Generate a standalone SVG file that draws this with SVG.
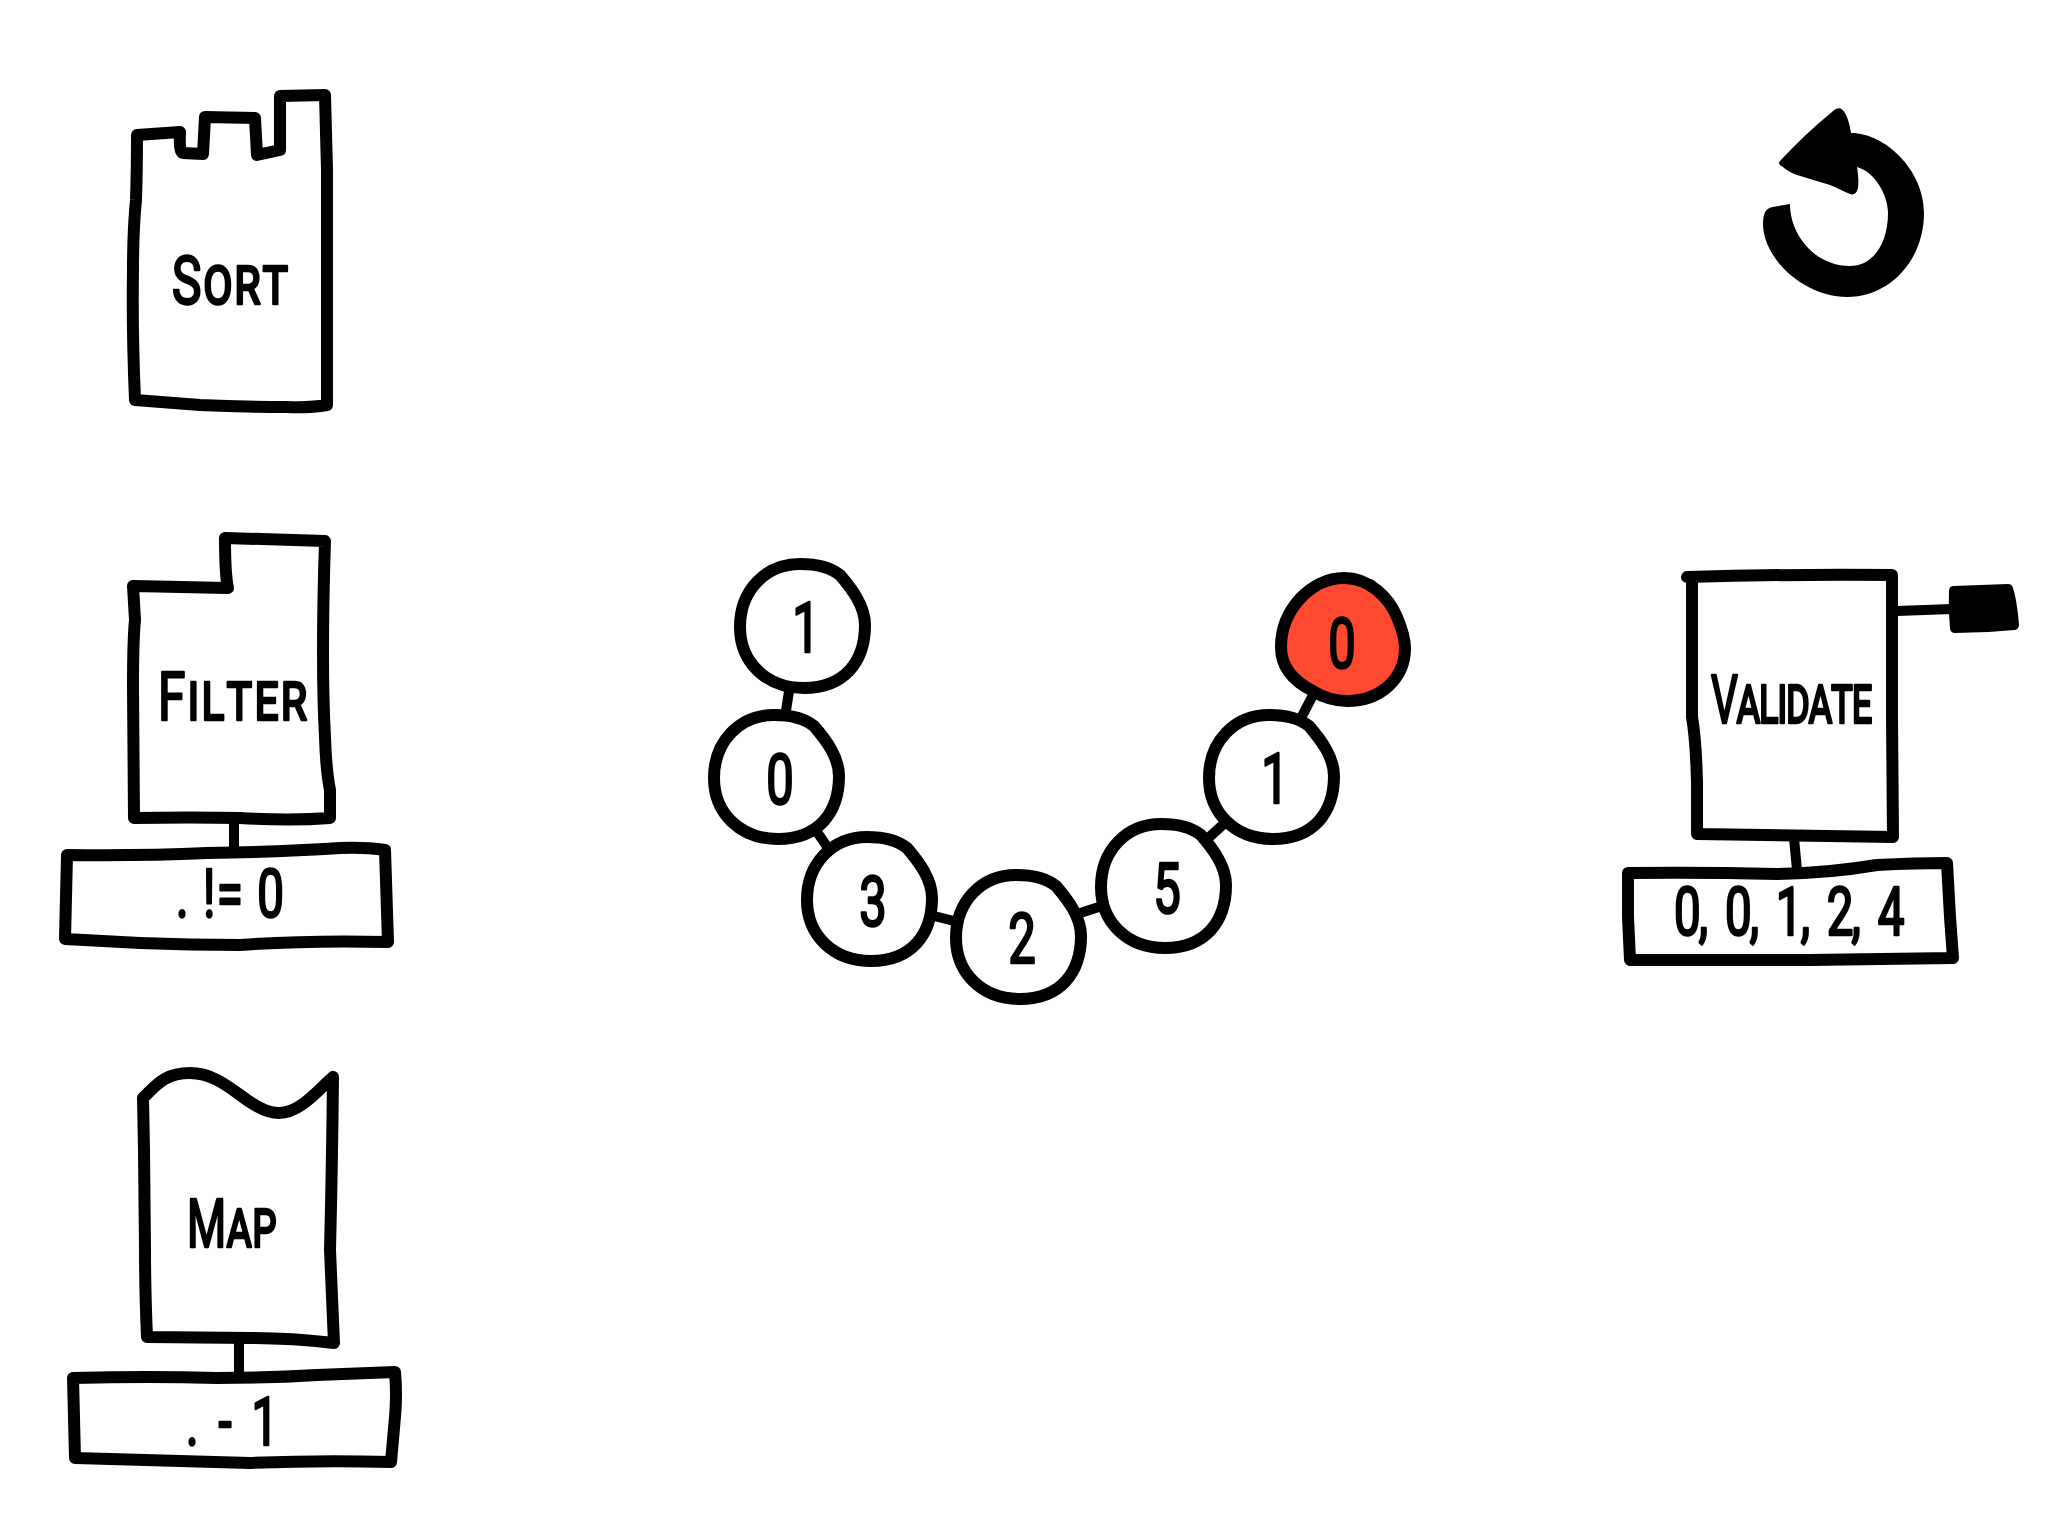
<svg xmlns="http://www.w3.org/2000/svg" xmlns:xlink="http://www.w3.org/1999/xlink" width="2048" height="1536" viewBox="0 0 2048 1536">
  <style>
    .shape { fill: #fff; stroke: #000; stroke-width: 12; stroke-linejoin: round; stroke-linecap: round; }
    .link { fill: none; stroke: #000; stroke-width: 10; stroke-linecap: butt; }
    .solid { fill: #000; stroke: #000; stroke-width: 10; stroke-linejoin: round; }
    text { font-family: "Roboto", "Open Sans", sans-serif; font-kerning: none; fill: #000; stroke: #000; stroke-width: 2.6; stroke-linejoin: round; stroke-linecap: round; }
    .word { font-size: 66px; font-variant: small-caps; }
    .value { font-size: 66px; }
    .digit { font-size: 70px; text-anchor: middle; }
  </style>
  <defs>
    <path id="blob" d="M38,-51 C50,-37 63,-20 63,-1 C63,36 42,62 2,62 C-36,62 -62,36 -62,1 C-62,-36 -36,-62 -2,-62 C14,-62 28,-59 38,-51 Z"/>
  </defs>

  <g id="connectors">
    <path class="link" d="M234,818 L234,852"/>
    <path class="link" d="M239,1340 L239,1376"/>
    <path class="link" d="M1794,838 L1797,870"/>
    <path class="link" d="M1897,611 Q1925,610 1952,609"/>
    <path class="link" d="M790,685 L785,717"/>
    <path class="link" d="M815,829 L830,851"/>
    <path class="link" d="M930,915 L958,922"/>
    <path class="link" d="M1074,915 L1105,905"/>
    <path class="link" d="M1205,841 L1227,821"/>
    <path class="link" d="M1299,722 L1313,695"/>
  </g>

  <g id="sort">
    <path class="shape" d="M137,135 L180,132 Q179,153 183,153 L203,154 L205,117 L255,118 L257,155 L280,150 L280,96 L325,95 Q326,130 327,170 L327,405 Q310,408 287,407 Q240,407 200,405 L135,400 Q132,330 133,270 Q133,230 136,200 Q137,170 137,135 Z"/>
    <text class="word" textLength="155" lengthAdjust="spacing" transform="translate(172,304) scale(.75,1)">Sort</text>
  </g>

  <g id="filter">
    <path class="shape" d="M133,586 L228,588 Q225,575 225,538 L325,541 Q323,600 323,653 Q323,700 325,737 Q326,770 330,790 L330,818 Q290,821 240,818 Q190,817 134,818 L133,687 Q133,640 135,620 Z"/>
    <text class="word" textLength="199" lengthAdjust="spacing" transform="translate(158,720) scale(.75,1)">Filter</text>
  </g>
  <g id="filter-arg">
    <path class="shape" d="M67,855 Q140,856 207,853 Q280,852 340,848 Q365,847 385,850 L388,942 Q310,940 240,945 Q190,945 140,943 L65,939 Z"/>
    <text class="value" textLength="150" lengthAdjust="spacing" transform="translate(176,917) scale(.72,1)">. != 0</text>
  </g>

  <g id="map">
    <path class="shape" d="M143,1098 C155,1087 163,1073 190,1073 C215,1073 232,1090 250,1102 C262,1110 270,1113 279,1113 C300,1113 318,1090 333,1077 Q332,1170 330,1250 L334,1343 Q290,1338 250,1338 L147,1337 Q145,1290 145,1250 L144,1150 Z"/>
    <text class="word" textLength="132" lengthAdjust="spacing" transform="translate(187,1247) scale(.68,1)">Map</text>
  </g>
  <g id="map-arg">
    <path class="shape" d="M73,1378 Q150,1376 217,1378 Q270,1378 317,1375 L395,1372 Q397,1395 395,1417 L391,1462 Q320,1460 250,1463 L75,1458 Z"/>
    <text class="value" textLength="128" lengthAdjust="spacing" transform="translate(186,1445) scale(.72,1)">. - 1</text>
  </g>

  <g id="validate">
    <path class="shape" d="M1687,577 Q1790,574 1892,575 L1892,717 L1893,837 Q1840,836 1697,834 L1697,783 Q1696,740 1692,717 L1692,578"/>
    <text class="word" textLength="252" lengthAdjust="spacing" transform="translate(1711,723) scale(.64,1)">Validate</text>
    <path class="solid" d="M1954,591 L2008,589 Q2012,600 2014,625 Q1985,628 1955,628 Q1953,610 1954,591 Z"/>
  </g>
  <g id="validate-result">
    <path class="shape" d="M1628,873 Q1700,872 1777,874 Q1830,873 1877,865 Q1915,863 1947,863 L1950,917 L1953,958 L1810,960 L1630,960 L1628,917 Z"/>
    <text class="value" textLength="320" lengthAdjust="spacing" style="word-spacing:12px" transform="translate(1674,935) scale(.72,1)">0, 0, 1, 2, 4</text>
  </g>

  <g id="bead-1"><use class="shape" xlink:href="#blob" href="#blob" x="802" y="626"/><text class="digit" transform="translate(806,652) scale(.7,1)">1</text></g>
  <g id="bead-2"><use class="shape" xlink:href="#blob" href="#blob" x="776" y="777"/><text class="digit" transform="translate(780,804) scale(.7,1)">0</text></g>
  <g id="bead-3"><use class="shape" xlink:href="#blob" href="#blob" x="869" y="899"/><text class="digit" transform="translate(873,926) scale(.7,1)">3</text></g>
  <g id="bead-4"><use class="shape" xlink:href="#blob" href="#blob" x="1018" y="937"/><text class="digit" transform="translate(1022,963) scale(.7,1)">2</text></g>
  <g id="bead-5"><use class="shape" xlink:href="#blob" href="#blob" x="1163" y="886"/><text class="digit" transform="translate(1167,913) scale(.7,1)">5</text></g>
  <g id="bead-6"><use class="shape" xlink:href="#blob" href="#blob" x="1271" y="777"/><text class="digit" transform="translate(1275,803) scale(.7,1)">1</text></g>
  <g id="bead-7">
    <path class="shape" style="fill:#ff4930" transform="translate(1343,640)" d="M1,-62 C27,-62 46,-42 54,-23 C59,-11 62,-2 62,8 C62,38 38,61 4,61 C-10,61 -22,56 -30,51 C-48,42 -62,28 -62,7 C-62,-30 -32,-62 1,-62 Z"/>
    <text class="digit" transform="translate(1342,668) scale(.7,1)">0</text>
  </g>

  <g id="restart">
    <path fill="#000" d="M1780,161 Q1806,133 1832,112 Q1840,104 1845,113 Q1849,120 1851,133 C1885,133 1924,170 1924,213 C1924,260 1890,297 1847,297 C1805,297 1763,260 1763,223 Q1763,208 1773,207 L1790,204 C1790,235 1815,266 1850,266 C1872,266 1888,245 1888,213 C1888,195 1875,172 1857,167 C1858,174 1859,181 1858,188 Q1856,196 1850,194 C1845,192 1838,188 1830,185 L1797,175 C1790,172 1786,170 1783,167 Q1777,164 1780,161 Z"/>
  </g>
</svg>
